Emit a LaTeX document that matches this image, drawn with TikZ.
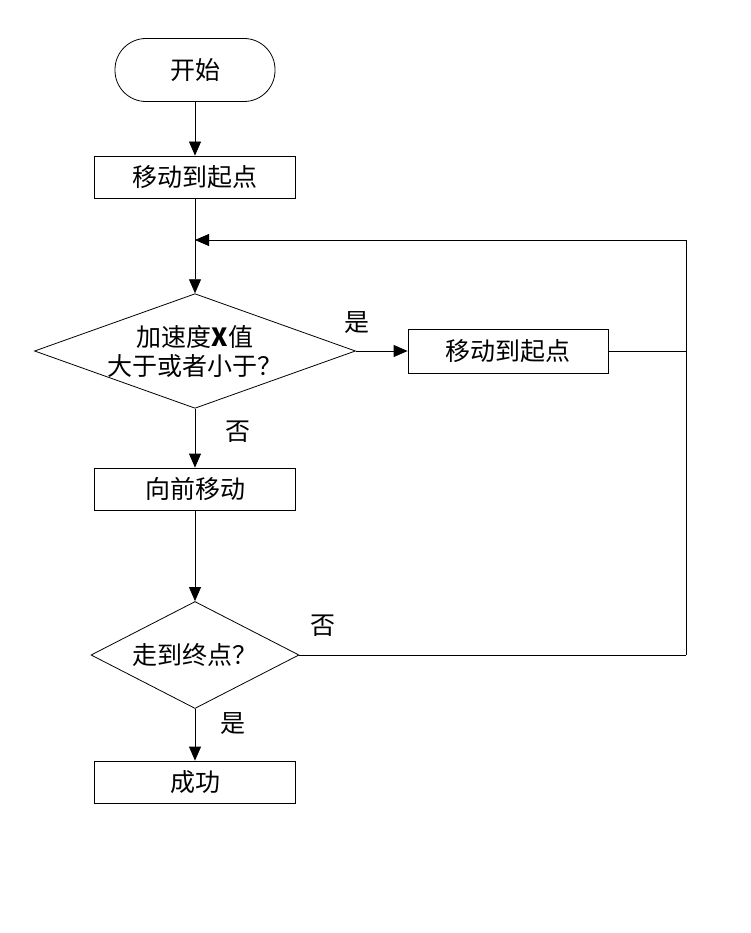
\documentclass[tikz,border=0pt]{standalone}
\usepackage{fontspec}
\setmainfont{Noto Sans CJK SC}
\usetikzlibrary{shapes.geometric,arrows.meta}
\begin{document}
\begin{tikzpicture}[x=1pt,y=-1pt,
 box/.style={draw,line width=0.8pt,minimum width=201pt,minimum height=42pt,inner sep=0pt,font=\fontsize{25}{27}\selectfont},
 dia/.style={draw,diamond,line width=0.8pt,aspect=2.8,inner sep=0pt,font=\fontsize{25}{29}\selectfont,align=center},
 lbl/.style={font=\fontsize{25}{27}\selectfont},
 arr/.style={line width=0.8pt,-{Triangle[length=14pt,width=12pt]}},
 ln/.style={line width=0.8pt}]
\useasboundingbox (0,0) rectangle (750,933);
\node[draw,line width=0.8pt,rounded corners=31pt,minimum width=160pt,minimum height=63pt,font=\fontsize{25}{27}\selectfont] (s) at (195,70) {开始};
\node[box] (b1) at (195,177) {移动到起点};
\coordinate (j) at (195,240);
\node[dia,minimum width=294pt,minimum height=106pt] (d1) at (195,351) {加速度\textbf{X}值\\大于或者小于？};
\node[box,minimum width=200pt,minimum height=44pt] (b2) at (508,351) {移动到起点};
\node[box] (b3) at (195,489) {向前移动};
\node[dia,minimum width=208pt,minimum height=107pt] (d2) at (195,655) {走到终点？};
\node[box] (b4) at (195,782) {成功};
\coordinate (r1) at (686,351);
\coordinate (r0) at (686,240);
\coordinate (r2) at (686,655);
\draw[arr] (s) -- (b1);
\draw[ln] (b1) -- (j);
\draw[arr] (j) -- (d1);
\draw[arr] (d1.east) -- (b2.west);
\draw[ln] (b2.east) -- (r1);
\draw[ln] (r2) -- (r0);
\draw[arr] (r0) -- (j);
\draw[ln] (d2.east) -- (r2);
\draw[arr] (d1) -- (b3);
\draw[arr] (b3) -- (d2);
\draw[arr] (d2) -- (b4);
\node[lbl] at (357,323) {是};
\node[lbl] at (238,432) {否};
\node[lbl] at (323,626) {否};
\node[lbl] at (233,724) {是};
\end{tikzpicture}
\end{document}
